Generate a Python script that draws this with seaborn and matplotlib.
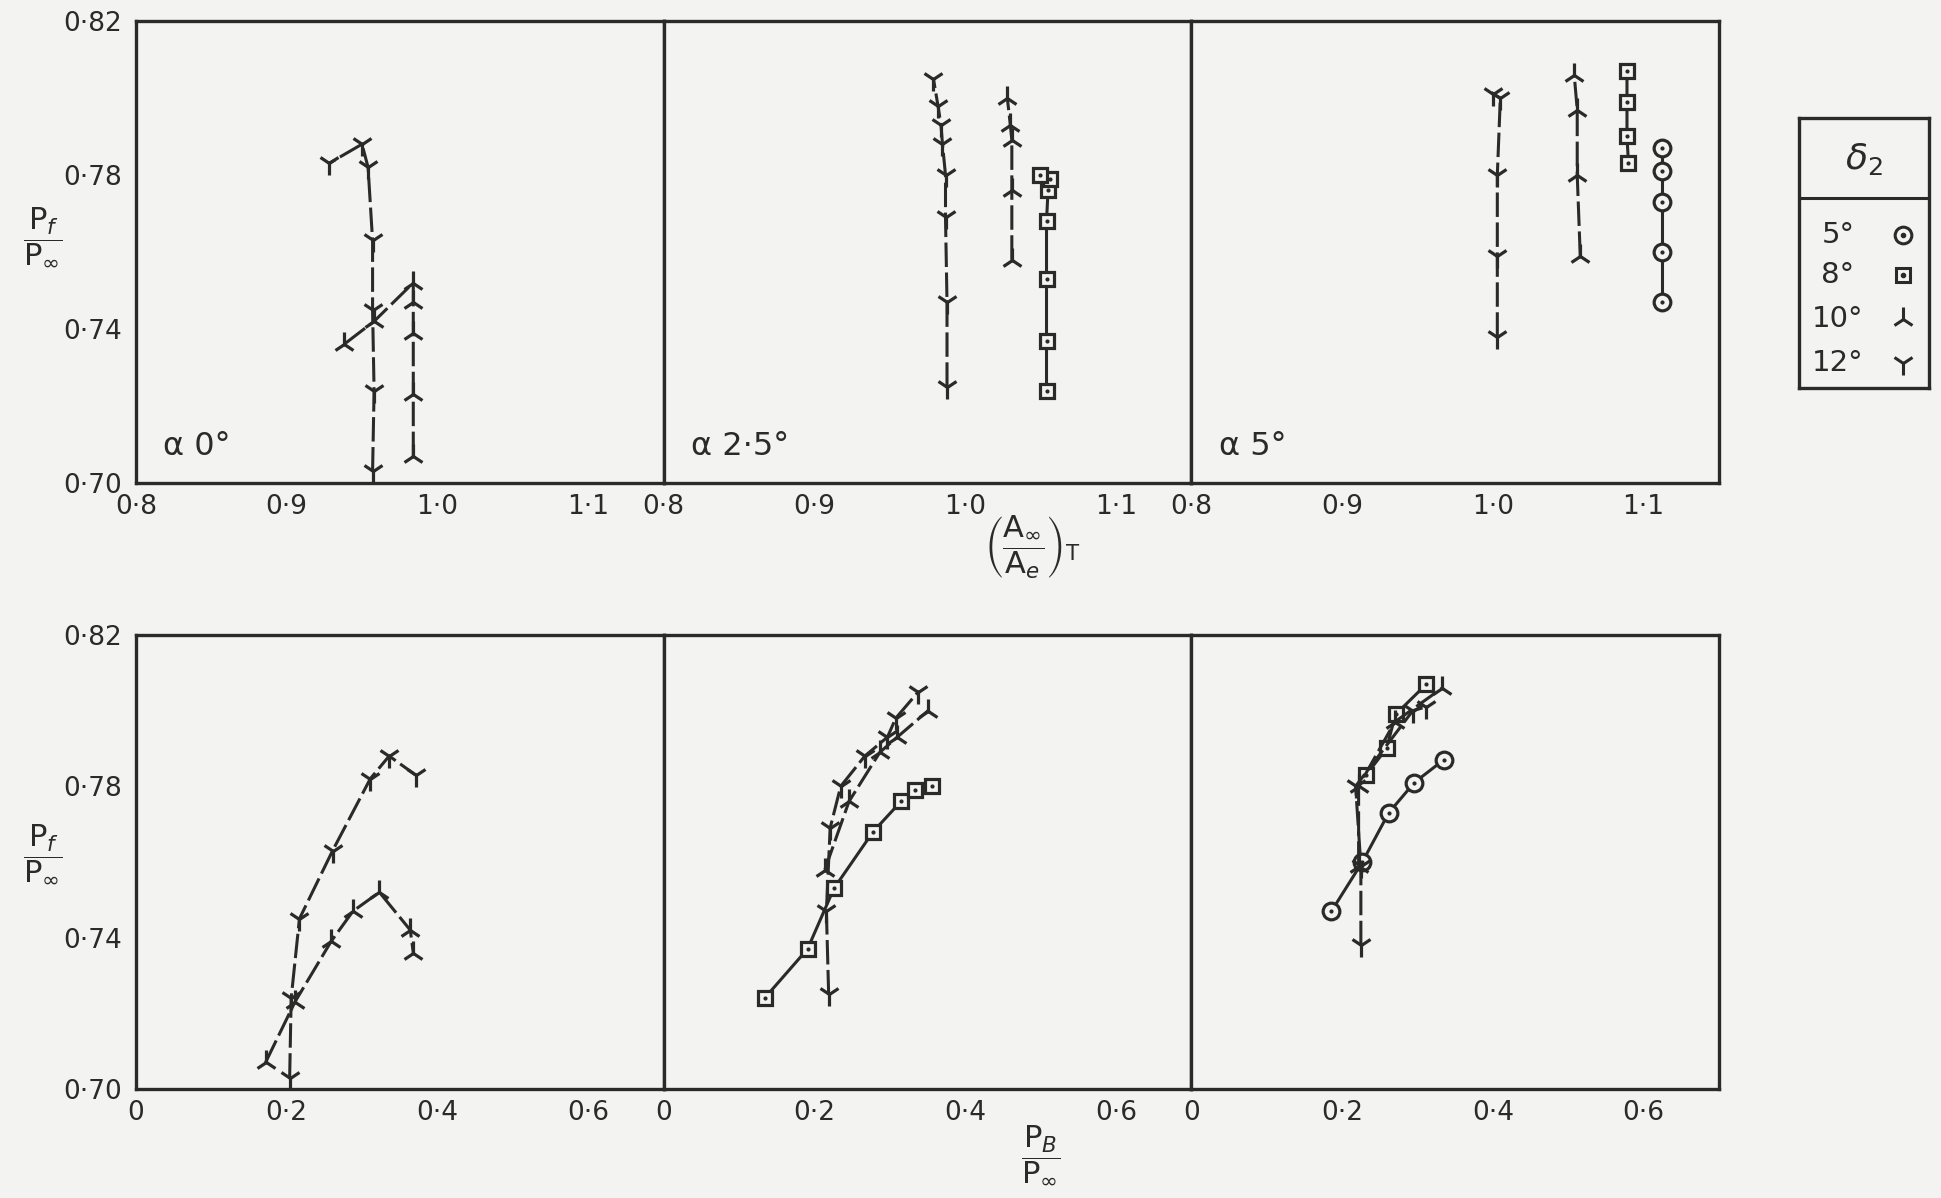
import matplotlib
matplotlib.use("Agg")
import matplotlib.pyplot as plt
import numpy as np
import pandas as pd
import seaborn as sns

# ---------------- data ----------------
# alpha = 0 deg
a0_d10_pf = [0.707, 0.723, 0.739, 0.747, 0.752, 0.742, 0.736]
a0_d10_area = [0.984, 0.984, 0.984, 0.984, 0.984, 0.958, 0.938]
a0_d10_pb = [0.172, 0.211, 0.259, 0.288, 0.323, 0.364, 0.368]
a0_d12_pf = [0.703, 0.724, 0.745, 0.763, 0.782, 0.788, 0.783]
a0_d12_area = [0.957, 0.958, 0.957, 0.957, 0.954, 0.950, 0.928]
a0_d12_pb = [0.204, 0.206, 0.217, 0.261, 0.311, 0.336, 0.371]

# alpha = 2.5 deg
a25_d8_pf = [0.724, 0.737, 0.753, 0.768, 0.776, 0.779, 0.780]
a25_d8_area = [1.054, 1.054, 1.054, 1.054, 1.055, 1.056, 1.050]
a25_d8_pb = [0.134, 0.191, 0.226, 0.278, 0.315, 0.333, 0.356]
a25_d10_pf = [0.758, 0.776, 0.789, 0.793, 0.800]
a25_d10_area = [1.031, 1.031, 1.031, 1.030, 1.028]
a25_d10_pb = [0.214, 0.246, 0.287, 0.310, 0.351]
a25_d12_pf = [0.725, 0.747, 0.769, 0.780, 0.788, 0.793, 0.798, 0.805]
a25_d12_area = [0.988, 0.988, 0.987, 0.987, 0.985, 0.984, 0.982, 0.979]
a25_d12_pb = [0.219, 0.216, 0.221, 0.235, 0.267, 0.297, 0.308, 0.338]

# alpha = 5 deg
a5_d5_pf = [0.747, 0.760, 0.773, 0.781, 0.787]
a5_d5_area = [1.112, 1.112, 1.112, 1.112, 1.112]
a5_d5_pb = [0.186, 0.227, 0.262, 0.296, 0.335]
a5_d8_pf = [0.783, 0.790, 0.799, 0.807]
a5_d8_area = [1.090, 1.089, 1.089, 1.089]
a5_d8_pb = [0.232, 0.259, 0.271, 0.312]
a5_d10_pf = [0.759, 0.780, 0.797, 0.806]
a5_d10_area = [1.058, 1.056, 1.056, 1.054]
a5_d10_pb = [0.222, 0.222, 0.270, 0.333]
a5_d12_pf = [0.738, 0.759, 0.780, 0.800, 0.801]
a5_d12_area = [1.003, 1.003, 1.003, 1.005, 1.000]
a5_d12_pb = [0.225, 0.225, 0.218, 0.294, 0.312]

alpha_labels = ["\u03b1 0\u00b0", "\u03b1 2\u00b75\u00b0", "\u03b1 5\u00b0"]
delta_values = [5, 8, 10, 12]
delta_labels = ["5\u00b0", "8\u00b0", "10\u00b0", "12\u00b0"]

panels = [
    [(10, a0_d10_pf, a0_d10_area, a0_d10_pb), (12, a0_d12_pf, a0_d12_area, a0_d12_pb)],
    [(8, a25_d8_pf, a25_d8_area, a25_d8_pb), (10, a25_d10_pf, a25_d10_area, a25_d10_pb),
     (12, a25_d12_pf, a25_d12_area, a25_d12_pb)],
    [(5, a5_d5_pf, a5_d5_area, a5_d5_pb), (8, a5_d8_pf, a5_d8_area, a5_d8_pb),
     (10, a5_d10_pf, a5_d10_area, a5_d10_pb), (12, a5_d12_pf, a5_d12_area, a5_d12_pb)],
]

y_ticks = [0.70, 0.74, 0.78, 0.82]
y_ticklabels = ["0\u00b770", "0\u00b774", "0\u00b778", "0\u00b782"]
top_xticks = [0.8, 0.9, 1.0, 1.1]
top_xticklabels = ["0\u00b78", "0\u00b79", "1\u00b70", "1\u00b71"]
bot_xticks = [0.0, 0.2, 0.4, 0.6]
bot_xticklabels = ["0", "0\u00b72", "0\u00b74", "0\u00b76"]

# ---------------- style ----------------
sns.set_theme(style="white")
plt.rcParams["font.family"] = ["DejaVu Sans"]
plt.rcParams["mathtext.fontset"] = "dejavusans"
INK = "#2a2a2a"
BG = "#f3f3f1"

styles = {
    5: dict(marker="o", ms=12, mfc=BG, ls="-", dot=True),
    8: dict(marker="s", ms=10.5, mfc=BG, ls="-", dot=True),
    10: dict(marker="2", ms=17, mfc="none", ls=(0, (8, 1.8)), dot=False),
    12: dict(marker="1", ms=17, mfc="none", ls=(0, (8, 1.8)), dot=False),
}


def draw(ax, xs, ys, d):
    st = styles[d]
    df = pd.DataFrame({"x": xs, "y": ys})
    sns.lineplot(data=df, x="x", y="y", sort=False, estimator=None, ax=ax,
                 color=INK, linewidth=2.2, linestyle=st["ls"],
                 marker=st["marker"], markersize=st["ms"],
                 markerfacecolor=st["mfc"], markeredgecolor=INK,
                 markeredgewidth=2.3, legend=False)
    if st["dot"]:
        sns.scatterplot(data=df, x="x", y="y", ax=ax, color=INK, s=9,
                        linewidth=0, legend=False, zorder=5)


fig = plt.figure(figsize=(19.41, 11.98), dpi=100, facecolor=BG)
left, right = 0.070, 0.8856
w = (right - left) / 3
top_ax = [fig.add_axes([left + i * w, 0.5968, w, 0.3857]) for i in range(3)]
bot_ax = [fig.add_axes([left + i * w, 0.0910, w, 0.3790]) for i in range(3)]

for row, axes in enumerate([top_ax, bot_ax]):
    for i, ax in enumerate(axes):
        ax.set_facecolor(BG)
        for dd, pf, area, pb in panels[i]:
            draw(ax, area if row == 0 else pb, pf, dd)
        ax.set_ylim(0.70, 0.82)
        if row == 0:
            ax.set_xlim(0.8, 1.15)
            ax.set_xticks(top_xticks)
            ax.set_xticklabels(top_xticklabels)
            ax.text(0.052, 0.08, alpha_labels[i], transform=ax.transAxes,
                    fontsize=23, color=INK, ha="left", va="center")
        else:
            ax.set_xlim(0.0, 0.7)
            ax.set_xticks(bot_xticks)
            ax.set_xticklabels(bot_xticklabels)
        ax.set_yticks(y_ticks)
        ax.set_yticklabels(y_ticklabels)
        ax.set_xlabel("")
        ax.set_ylabel("")
        for s in ax.spines.values():
            s.set_visible(True)
            s.set_color(INK)
            s.set_linewidth(2.4)
        ax.tick_params(axis="both", direction="in", length=13, width=2.0,
                       color=INK, labelcolor=INK, labelsize=19)
        ax.tick_params(axis="x", pad=8)
        ax.tick_params(axis="y", pad=10)
        if i > 0:
            ax.tick_params(axis="y", left=False, labelleft=False)

# axis titles
frac_pf = r"$\dfrac{\mathrm{P}_f}{\mathrm{P}_\infty}$"
fig.text(0.022, 0.802, frac_pf, fontsize=22, color=INK, ha="center", va="center")
fig.text(0.022, 0.287, frac_pf, fontsize=22, color=INK, ha="center", va="center")
fig.text(0.532, 0.543,
         r"$\left(\dfrac{\mathrm{A}_\infty}{\mathrm{A}_e}\right)_\mathrm{T}$",
         fontsize=22, color=INK, ha="center", va="center")
fig.text(0.536, 0.036, r"$\dfrac{\mathrm{P}_B}{\mathrm{P}_\infty}$",
         fontsize=22, color=INK, ha="center", va="center")

# legend box
lax = fig.add_axes([0.9268, 0.6761, 0.067, 0.2254])
lax.set_facecolor(BG)
lax.set_xlim(0, 1)
lax.set_ylim(0, 1)
lax.set_xticks([])
lax.set_yticks([])
for s in lax.spines.values():
    s.set_visible(True)
    s.set_color(INK)
    s.set_linewidth(2.4)
lax.axhline(0.704, color=INK, lw=2.2)
lax.text(0.5, 0.85, r"$\delta_2$", fontsize=26, color=INK, ha="center", va="center")
row_y = [0.567, 0.419, 0.256, 0.093]
for yy, lab, d in zip(row_y, delta_labels, delta_values):
    lax.text(0.30, yy, lab, fontsize=21, color=INK, ha="center", va="center")
    st = styles[d]
    lax.plot([0.80], [yy], marker=st["marker"], ms=st["ms"], mfc=st["mfc"],
             mec=INK, mew=2.2, ls="none")
    if st["dot"]:
        lax.plot([0.80], [yy], marker="o", ms=3, color=INK, ls="none")

fig.savefig("out.png", dpi=100, facecolor=BG)
